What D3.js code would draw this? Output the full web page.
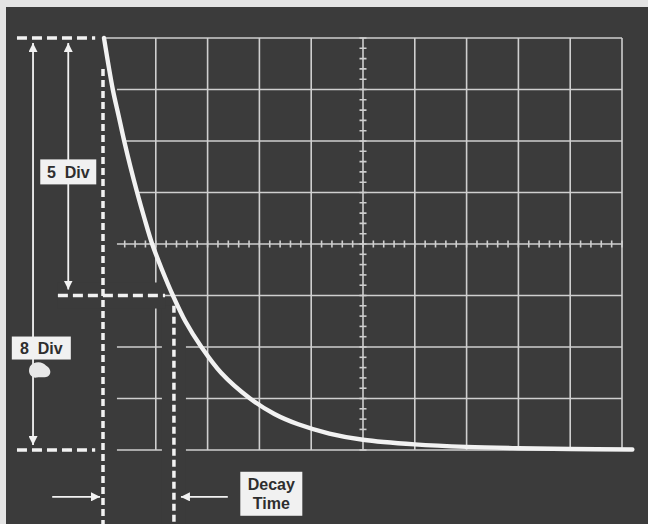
<!DOCTYPE html>
<html>
<head>
<meta charset="utf-8">
<script src="https://cdn.jsdelivr.net/npm/d3@7"></script>
<style>
  body { margin: 0; background: #e4e4e4; }
  svg { display: block; }
  .lbl { font-family: "Liberation Sans", Arial, sans-serif; font-weight: bold; font-size: 16px; fill: #2e2e2e; }
</style>
</head>
<body>
<svg id="scope" width="648" height="524"></svg>
<script>
// graticule divisions
const timeDivs = [0, 1, 2, 3, 4, 5, 6, 7, 8, 9, 10];
const ampDivs = [0, 1, 2, 3, 4, 5, 6, 7, 8];

// trace (time div, amplitude div)
const traceTime = [0, 0.17, 0.28, 0.39, 0.51, 0.64, 0.78, 0.93, 1.12, 1.33, 1.57, 1.88, 2.26, 2.82, 3.29, 3.75, 4.35, 5.0, 6.0, 7.0, 8.0, 9.0, 10.2];
const traceAmp  = [8, 7, 6.5, 6, 5.5, 5, 4.5, 4, 3.5, 3, 2.5, 2, 1.5, 1, 0.7, 0.5, 0.32, 0.2, 0.11, 0.06, 0.035, 0.02, 0.01];

// annotation values
const decayTime = 1.35;   // time where trace is down to 3 div
const fullAmp = 8;
const decayAmp = 3;
const labels = [
  { lines: ['5 Div'], t: -0.69, a: 5.4, w: 56, h: 25 },
  { lines: ['8 Div'], t: -1.21, a: 1.98, w: 59, h: 23 },
  { lines: ['Decay', 'Time'], t: 3.23, a: -0.85, w: 62, h: 44 }
];

const svg = d3.select('#scope');
const width = +svg.attr('width');
const height = +svg.attr('height');

const x = d3.scaleLinear().domain([0, 10]).range([104, 622]);
const y = d3.scaleLinear().domain([0, 8]).range([450, 38]);

const bg = '#3b3b3b';
const gridCol = '#cfcfcf';
const white = '#f2f2f2';

// screen face
svg.append('rect')
  .attr('x', 6).attr('y', 7)
  .attr('width', width - 6).attr('height', height - 7)
  .attr('fill', bg);

const line = d3.line()
  .x((d, i) => x(traceTime[i]))
  .y(d => y(d))
  .curve(d3.curveCatmullRom.alpha(0.5));

// clip: grid only right of the trace up top, everything lower down
const defs = svg.append('defs');
const clip = defs.append('clipPath').attr('id', 'gridclip');
clip.append('path')
  .attr('d', d3.area()
    .x((d, i) => x(traceTime[i]))
    .y0(y(8) - 6)
    .y1(d => y(d))
    .curve(d3.curveCatmullRom.alpha(0.5))(traceAmp));
clip.append('rect').attr('x', x(0)).attr('y', y(8) - 4).attr('width', 560).attr('height', 8);
clip.append('rect').attr('x', 0).attr('y', y(4.45)).attr('width', width).attr('height', 300);

const grid = svg.append('g').attr('clip-path', 'url(#gridclip)')
  .attr('stroke', gridCol).attr('stroke-width', 1.6);

grid.selectAll('line.h')
  .data(ampDivs)
  .enter().append('line')
  .attr('class', 'h')
  .attr('x1', d => d === 8 ? x(0) : x(0.25))
  .attr('x2', x(10))
  .attr('y1', d => y(d)).attr('y2', d => y(d));

grid.selectAll('line.v')
  .data(timeDivs.slice(1))
  .enter().append('line')
  .attr('class', 'v')
  .attr('x1', d => x(d)).attr('x2', d => x(d))
  .attr('y1', y(8)).attr('y2', y(0));

// minor ticks on the centre lines
const minor = d3.range(0, 10.01, 0.2);
grid.selectAll('line.tx')
  .data(minor.filter(d => d > 0.2))
  .enter().append('line')
  .attr('x1', d => x(d)).attr('x2', d => x(d))
  .attr('y1', y(4) - 3.5).attr('y2', y(4) + 3.5);
grid.selectAll('line.ty')
  .data(d3.range(0, 8.01, 0.2))
  .enter().append('line')
  .attr('x1', x(5) - 3.5).attr('x2', x(5) + 3.5)
  .attr('y1', d => y(d)).attr('y2', d => y(d));

// erase the grid around the dashed markers
const erase = svg.append('g').attr('stroke', bg);
erase.append('line')
  .attr('x1', x(0) - 14).attr('x2', x(0) - 14)
  .attr('y1', y(7.4)).attr('y2', height)
  .attr('stroke-width', 28);
erase.append('line')
  .attr('x1', x(decayTime)).attr('x2', x(decayTime))
  .attr('y1', y(2.8)).attr('y2', height)
  .attr('stroke-width', 24);
erase.append('line')
  .attr('x1', x(-0.9)).attr('x2', x(1.18))
  .attr('y1', y(decayAmp)).attr('y2', y(decayAmp))
  .attr('stroke-width', 26);

// trace
svg.append('path')
  .datum(traceAmp)
  .attr('d', line)
  .attr('fill', 'none')
  .attr('stroke', white)
  .attr('stroke-width', 4.4)
  .attr('stroke-linecap', 'round');

// dashed markers
const dash = svg.append('g')
  .attr('stroke', white).attr('stroke-width', 3.5).attr('fill', 'none');
dash.append('line')
  .attr('x1', x(-1.68)).attr('x2', x(-0.17))
  .attr('y1', y(fullAmp)).attr('y2', y(fullAmp))
  .attr('stroke-dasharray', '10,5');
dash.append('line')
  .attr('x1', x(-1.68)).attr('x2', x(-0.17))
  .attr('y1', y(0)).attr('y2', y(0))
  .attr('stroke-dasharray', '10,5');
dash.append('line')
  .attr('x1', x(-0.89)).attr('x2', x(1.18))
  .attr('y1', y(decayAmp)).attr('y2', y(decayAmp))
  .attr('stroke-dasharray', '10,5');
dash.append('line')
  .attr('x1', x(0) - 1).attr('x2', x(0) - 1)
  .attr('y1', y(7.4)).attr('y2', height)
  .attr('stroke-dasharray', '7,4');
dash.append('line')
  .attr('x1', x(decayTime)).attr('x2', x(decayTime))
  .attr('y1', y(2.8)).attr('y2', height)
  .attr('stroke-dasharray', '7,4');

// arrows
defs.append('marker')
  .attr('id', 'head')
  .attr('viewBox', '0 0 10 10')
  .attr('refX', 10).attr('refY', 5)
  .attr('markerWidth', 9).attr('markerHeight', 9)
  .attr('markerUnits', 'userSpaceOnUse')
  .attr('orient', 'auto-start-reverse')
  .append('path').attr('d', 'M0,0 L10,5 L0,10 Z').attr('fill', white);

const arrows = svg.append('g').attr('stroke', white).attr('stroke-width', 1.8);
arrows.append('line')
  .attr('x1', x(-1.37)).attr('x2', x(-1.37))
  .attr('y1', y(fullAmp) + 5).attr('y2', y(0) - 5)
  .attr('marker-start', 'url(#head)').attr('marker-end', 'url(#head)');
arrows.append('line')
  .attr('x1', x(-0.69)).attr('x2', x(-0.69))
  .attr('y1', y(fullAmp) + 5).attr('y2', y(decayAmp) - 6)
  .attr('marker-start', 'url(#head)').attr('marker-end', 'url(#head)');
arrows.append('line')
  .attr('x1', x(-1.0)).attr('x2', x(0) - 4)
  .attr('y1', y(-0.91)).attr('y2', y(-0.91))
  .attr('marker-end', 'url(#head)');
arrows.append('line')
  .attr('x1', x(2.39)).attr('x2', x(decayTime) + 7)
  .attr('y1', y(-0.91)).attr('y2', y(-0.91))
  .attr('marker-end', 'url(#head)');

// smudge on the 8 div arrow
svg.append('path')
  .attr('d', `M${x(-1.43)},${y(1.62)} c4,-6 13,-5 16,-1 c4,2 6,7 3,10 c-3,3 -9,1 -12,2 c-5,1 -10,-4 -7,-11 Z`)
  .attr('fill', '#e8e8e8');

// label boxes
const lab = svg.selectAll('g.lab')
  .data(labels)
  .enter().append('g')
  .attr('class', 'lab')
  .attr('transform', d => `translate(${x(d.t)},${y(d.a)})`);
lab.append('rect')
  .attr('x', d => -d.w / 2).attr('y', d => -d.h / 2)
  .attr('width', d => d.w).attr('height', d => d.h)
  .attr('fill', '#f1f1f1');
lab.each(function(d) {
  const g = d3.select(this);
  d.lines.forEach((t, i) => {
    g.append('text')
      .attr('class', 'lbl')
      .attr('text-anchor', 'middle')
      .attr('y', (i - (d.lines.length - 1) / 2) * 19 + 6)
      .attr('xml:space', 'preserve')
      .text(t.replace(' ', '  '));
  });
});
</script>
</body>
</html>
